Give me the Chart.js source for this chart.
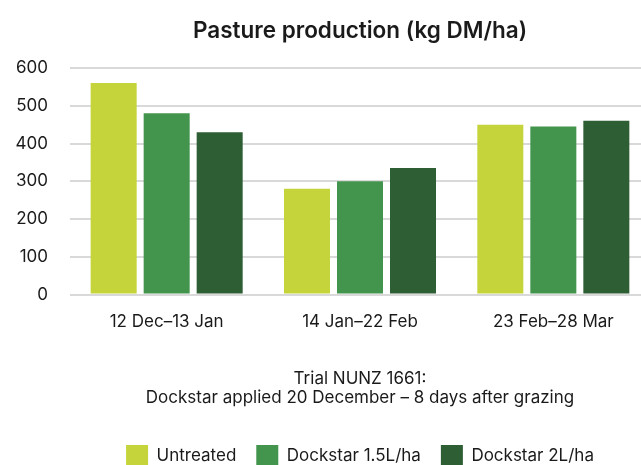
<!DOCTYPE html>
<html>
<head>
<meta charset="utf-8">
<script src="https://cdn.jsdelivr.net/npm/chart.js@4"></script>
<style>
  html, body { margin: 0; padding: 0; background: #fff; overflow: hidden; }
  #wrap { width: 720px; height: 465px; }
</style>
</head>
<body>
<div id="wrap"><canvas id="pasture-chart"></canvas></div>
<script>
const periodos = ['12 Dec\u201313 Jan', '14 Jan\u201322 Feb', '23 Feb\u201328 Mar'];
const untreated = [560, 280, 450];
const dockstar15 = [480, 300, 445];
const dockstar2 = [430, 335, 460];
const yTicks = [0, 100, 200, 300, 400, 500, 600];

const textColor = '#1a1a1a';
const fuente = 'Inter, "Noto Sans", sans-serif';

new Chart(document.getElementById('pasture-chart'), {
  type: 'bar',
  data: {
    labels: periodos,
    datasets: [
      { label: 'Untreated', data: untreated, backgroundColor: '#C5D43A' },
      { label: 'Dockstar 1.5L/ha', data: dockstar15, backgroundColor: '#43944C' },
      { label: 'Dockstar 2L/ha', data: dockstar2, backgroundColor: '#2E5E34' }
    ]
  },
  options: {
    responsive: true,
    maintainAspectRatio: false,
    animation: false,
    layout: { padding: { top: 14, left: 0, right: 0, bottom: -12 } },
    datasets: { bar: { categoryPercentage: 0.8225, barPercentage: 0.868 } },
    scales: {
      x: {
        grid: { display: false },
        border: { display: false },
        ticks: { color: textColor, font: { family: fuente, size: 17 }, padding: 9 },
        title: {
          display: true,
          text: ['Trial NUNZ 1661:', 'Dockstar applied 20 December \u2013 8 days after grazing'],
          color: textColor,
          font: { family: fuente, size: 17, lineHeight: 1.15 },
          padding: { top: 28, bottom: 17 }
        }
      },
      y: {
        min: 0,
        max: 600,
        afterBuildTicks: (axis) => { axis.ticks = yTicks.map(v => ({ value: v })); },
        afterFit: (axis) => { axis.width = 70; },
        grid: { color: '#d9d9d9', lineWidth: 2, drawTicks: false },
        border: { display: false },
        ticks: { color: textColor, font: { family: fuente, size: 17 }, padding: 22 }
      },
      // espacio vacio a la derecha (la imagen original esta recortada)
      derecha: {
        type: 'linear',
        position: 'right',
        grid: { display: false },
        border: { display: false },
        ticks: { display: false },
        afterFit: (axis) => { axis.width = 70; }
      }
    },
    plugins: {
      title: {
        display: true,
        text: 'Pasture production (kg DM/ha)',
        color: textColor,
        font: { family: fuente, size: 22.5, weight: '600' },
        padding: { top: 4, bottom: 23 }
      },
      legend: {
        position: 'bottom',
        labels: {
          color: textColor,
          font: { family: fuente, size: 17 },
          boxWidth: 22,
          boxHeight: 22,
          padding: 20
        }
      },
      tooltip: { enabled: false }
    }
  }
});
</script>
</body>
</html>
